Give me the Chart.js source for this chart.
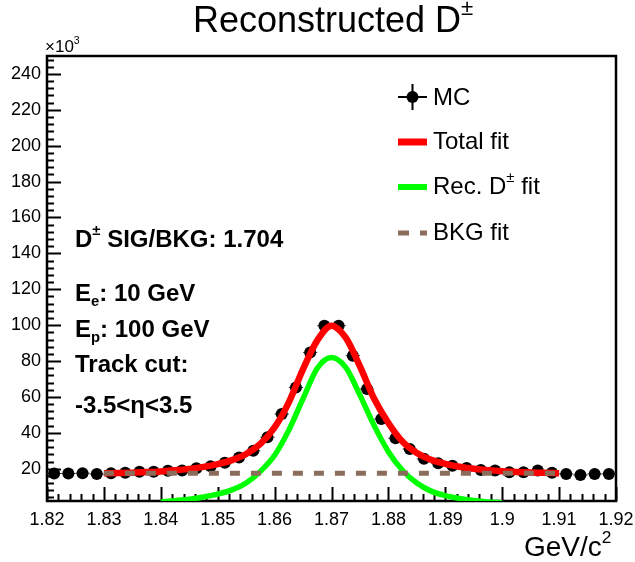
<!DOCTYPE html>
<html>
<head>
<meta charset="utf-8">
<title>Reconstructed D±</title>
<script src="https://cdn.jsdelivr.net/npm/chart.js@4.4.1/dist/chart.umd.min.js"></script>
<style>
  html, body { margin: 0; padding: 0; background: #fff; }
  canvas { display: block; }
</style>
</head>
<body>
<canvas id="massChart" width="635" height="562"></canvas>
<script>
// invariant mass in GeV/c^2, counts in units of 10^3
var mcMass = [1.82125, 1.82375, 1.82625, 1.82875, 1.83125, 1.83375, 1.83625, 1.83875, 1.84125, 1.84375,
              1.84625, 1.84875, 1.85125, 1.85375, 1.85625, 1.85875, 1.86125, 1.86375, 1.86625, 1.86875,
              1.87125, 1.87375, 1.87625, 1.87875, 1.88125, 1.88375, 1.88625, 1.88875, 1.89125, 1.89375,
              1.89625, 1.89875, 1.90125, 1.90375, 1.90625, 1.90875, 1.91125, 1.91375, 1.91625, 1.91875];
var mcCounts = [17.3, 17.3, 17.5, 17.0, 17.5, 17.8, 18.3, 18.3, 18.8, 19.0,
                20.2, 21.3, 23.3, 26.2, 30.0, 37.5, 50.5, 65.3, 84.8, 99.7,
                99.7, 83.0, 64.4, 47.7, 37.0, 31.0, 25.5, 23.0, 21.7, 20.4,
                19.3, 19.0, 18.0, 18.0, 19.0, 17.7, 17.1, 16.5, 17.1, 17.1];
var mcBinHalf = 0.00125;

var fitMass = [1.8300, 1.8325, 1.8350, 1.8375, 1.8400, 1.8425, 1.8450, 1.8475, 1.8500, 1.8525,
               1.8550, 1.8575, 1.8600, 1.8625, 1.8650, 1.8675, 1.8700, 1.8725, 1.8750, 1.8775,
               1.8800, 1.8825, 1.8850, 1.8875, 1.8900, 1.8925, 1.8950, 1.8975, 1.9000, 1.9025,
               1.9050, 1.9075, 1.9100];
var totalFit = [17.5, 17.6, 17.8, 18.1, 18.5, 19.1, 19.9, 21.0, 22.6, 24.8,
                28.2, 33.8, 43.0, 57.0, 75.5, 91.5, 99.7, 93.0, 77.0, 59.0,
                45.5, 35.0, 28.8, 25.0, 22.7, 21.1, 20.0, 19.2, 18.6, 18.2,
                17.9, 17.7, 17.5];

var sigMass = [1.8400, 1.8425, 1.8450, 1.8475, 1.8500, 1.8525, 1.8550, 1.8575, 1.8600, 1.8625,
               1.8650, 1.8675, 1.8700, 1.8725, 1.8750, 1.8775, 1.8800, 1.8825, 1.8850, 1.8875,
               1.8900, 1.8925, 1.8950, 1.8975, 1.9000];
var sigFit = [1.5, 2.2, 3.0, 4.2, 5.8, 8.2, 12.0, 18.5, 27.5, 41.5,
              59.0, 76.0, 82.0, 76.5, 61.0, 44.0, 29.5, 19.0, 12.0, 7.5,
              5.0, 3.4, 2.3, 1.5, 1.0];

var bkgMass = [1.83, 1.91];
var bkgFit = [17.5, 17.5];

var xTicks = [1.82, 1.83, 1.84, 1.85, 1.86, 1.87, 1.88, 1.89, 1.90, 1.91, 1.92];
var xTickLabels = ['1.82', '1.83', '1.84', '1.85', '1.86', '1.87', '1.88', '1.89', '1.9', '1.91', '1.92'];
var yTicks = [20, 40, 60, 80, 100, 120, 140, 160, 180, 200, 220, 240];

var FONT = '"Liberation Sans", Arial, Helvetica, sans-serif';
var RED = '#ff0000', GREEN = '#00ff00', BROWN = '#8b6d5c';

function pairs(xs, ys) {
  return xs.map(function (x, i) { return { x: x, y: ys[i] }; });
}

// text with superscript (1) / subscript (-1) pieces
function drawRich(ctx, x, y, parts, size, weight) {
  ctx.textAlign = 'left';
  ctx.textBaseline = 'middle';
  parts.forEach(function (p) {
    var mode = p[1] || 0;
    var s = mode ? size * 0.62 : size;
    ctx.font = weight + ' ' + s + 'px ' + FONT;
    var dy = mode === 1 ? -size * 0.36 : (mode === -1 ? size * 0.32 : 0);
    ctx.fillText(p[0], x, y + dy);
    x += ctx.measureText(p[0]).width;
  });
  return x;
}

// frame with inward ticks, ROOT style
var frame = {
  id: 'frame',
  beforeDatasetsDraw: function (chart) {
    var ctx = chart.ctx, a = chart.chartArea;
    var sx = chart.scales.x, sy = chart.scales.y;
    ctx.save();
    ctx.strokeStyle = '#000';
    ctx.lineWidth = 2;
    ctx.beginPath();
    for (var i = 0; i <= 50; i++) {
      var px = Math.round(sx.getPixelForValue(1.82 + i * 0.002)) + 0.5;
      var len = i % 5 === 0 ? 14 : 7;
      ctx.moveTo(px, a.bottom);
      ctx.lineTo(px, a.bottom - len);
    }
    for (var j = 1; j <= 62; j++) {
      var v = j * 4;
      if (v < sy.min) continue;
      var py = Math.round(sy.getPixelForValue(v)) + 0.5;
      var l = v % 20 === 0 ? 14 : 7;
      ctx.moveTo(a.left, py);
      ctx.lineTo(a.left + l, py);
    }
    ctx.stroke();

    ctx.lineWidth = 2.5;
    ctx.strokeRect(a.left, a.top, a.right - a.left, a.bottom - a.top);

    // horizontal bin-width bars on the MC points
    ctx.lineWidth = 1;
    ctx.strokeStyle = '#333';
    ctx.beginPath();
    mcMass.forEach(function (m, k) {
      var py = sy.getPixelForValue(mcCounts[k]);
      ctx.moveTo(sx.getPixelForValue(m - mcBinHalf), py);
      ctx.lineTo(sx.getPixelForValue(m + mcBinHalf), py);
    });
    ctx.stroke();
    ctx.restore();
  },
  afterDraw: function (chart) {
    var ctx = chart.ctx, a = chart.chartArea;
    ctx.save();
    ctx.fillStyle = '#000';

    // title
    drawRich(ctx, 193, 22, [['Reconstructed D'], ['\u00b1', 1]], 36, 'normal');

    // axis exponent and unit
    drawRich(ctx, a.left - 2, 47, [['\u00d710'], ['3', 1]], 17, 'normal');
    drawRich(ctx, 524, 548, [['GeV/c'], ['2', 1]], 28, 'normal');

    // fit summary
    drawRich(ctx, 75, 240, [['D'], ['\u00b1', 1], [' SIG/BKG: 1.704']], 24, 'bold');
    drawRich(ctx, 75, 294, [['E'], ['e', -1], [': 10 GeV']], 24, 'bold');
    drawRich(ctx, 75, 330, [['E'], ['p', -1], [': 100 GeV']], 24, 'bold');
    drawRich(ctx, 75, 365, [['Track cut:']], 24, 'bold');
    drawRich(ctx, 75, 406, [['-3.5<\u03b7<3.5']], 24, 'bold');

    // legend
    var lx = 398, lw = 29, tx = 433;
    ctx.strokeStyle = '#000';
    ctx.lineWidth = 2;
    ctx.beginPath();
    ctx.moveTo(lx, 97); ctx.lineTo(lx + lw, 97);
    ctx.moveTo(lx + lw / 2, 84); ctx.lineTo(lx + lw / 2, 110);
    ctx.stroke();
    ctx.beginPath();
    ctx.arc(lx + lw / 2, 97, 6, 0, Math.PI * 2);
    ctx.fill();
    drawRich(ctx, tx, 98, [['MC']], 24, 'normal');

    ctx.lineWidth = 7;
    ctx.strokeStyle = RED;
    ctx.beginPath(); ctx.moveTo(lx, 142); ctx.lineTo(lx + lw, 142); ctx.stroke();
    drawRich(ctx, tx, 142, [['Total fit']], 24, 'normal');

    ctx.lineWidth = 6;
    ctx.strokeStyle = GREEN;
    ctx.beginPath(); ctx.moveTo(lx, 187); ctx.lineTo(lx + lw, 187); ctx.stroke();
    drawRich(ctx, tx, 187, [['Rec. D'], ['\u00b1', 1], [' fit']], 24, 'normal');

    ctx.lineWidth = 5;
    ctx.strokeStyle = BROWN;
    ctx.beginPath();
    ctx.moveTo(lx, 233); ctx.lineTo(lx + 11, 233);
    ctx.moveTo(lx + 22, 233); ctx.lineTo(lx + lw, 233);
    ctx.stroke();
    drawRich(ctx, tx, 233, [['BKG fit']], 24, 'normal');
    ctx.restore();
  }
};

new Chart(document.getElementById('massChart'), {
  type: 'line',
  data: {
    datasets: [
      { label: 'BKG fit', data: pairs(bkgMass, bkgFit), borderColor: BROWN, borderWidth: 5,
        borderDash: [10, 11], pointRadius: 0 },
      { label: 'Rec. D\u00b1 fit', data: pairs(sigMass, sigFit), borderColor: GREEN, borderWidth: 5.5,
        pointRadius: 0, cubicInterpolationMode: 'monotone' },
      { label: 'Total fit', data: pairs(fitMass, totalFit), borderColor: RED, borderWidth: 6.5,
        pointRadius: 0, cubicInterpolationMode: 'monotone' },
      { label: 'MC', data: pairs(mcMass, mcCounts), showLine: false, pointRadius: 6,
        pointBackgroundColor: '#000', pointBorderColor: '#000', pointBorderWidth: 0 }
    ]
  },
  options: {
    responsive: false,
    animation: false,
    devicePixelRatio: 1,
    layout: { padding: { top: 56, right: 19, left: 0, bottom: 0 } },
    plugins: { legend: { display: false }, tooltip: { enabled: false }, title: { display: false } },
    scales: {
      x: {
        type: 'linear', min: 1.82, max: 1.92,
        afterBuildTicks: function (s) { s.ticks = xTicks.map(function (v) { return { value: v }; }); },
        afterFit: function (s) { s.height = 61; s.paddingRight = 0; s.paddingLeft = 0; },
        grid: { display: false, drawTicks: false }, border: { display: false },
        ticks: {
          autoSkip: false, maxRotation: 0, padding: 8, color: '#000',
          font: { size: 18, family: FONT },
          callback: function (v, i) { return xTickLabels[i]; }
        }
      },
      y: {
        type: 'linear', min: 2, max: 250,
        afterBuildTicks: function (s) { s.ticks = yTicks.map(function (v) { return { value: v }; }); },
        afterFit: function (s) { s.width = 47; s.paddingTop = 0; s.paddingBottom = 0; },
        grid: { display: false, drawTicks: false }, border: { display: false },
        ticks: {
          padding: 6, color: '#000',
          font: { size: 18, family: FONT },
          callback: function (v) { return String(v); }
        }
      }
    }
  },
  plugins: [frame]
});
</script>
</body>
</html>
